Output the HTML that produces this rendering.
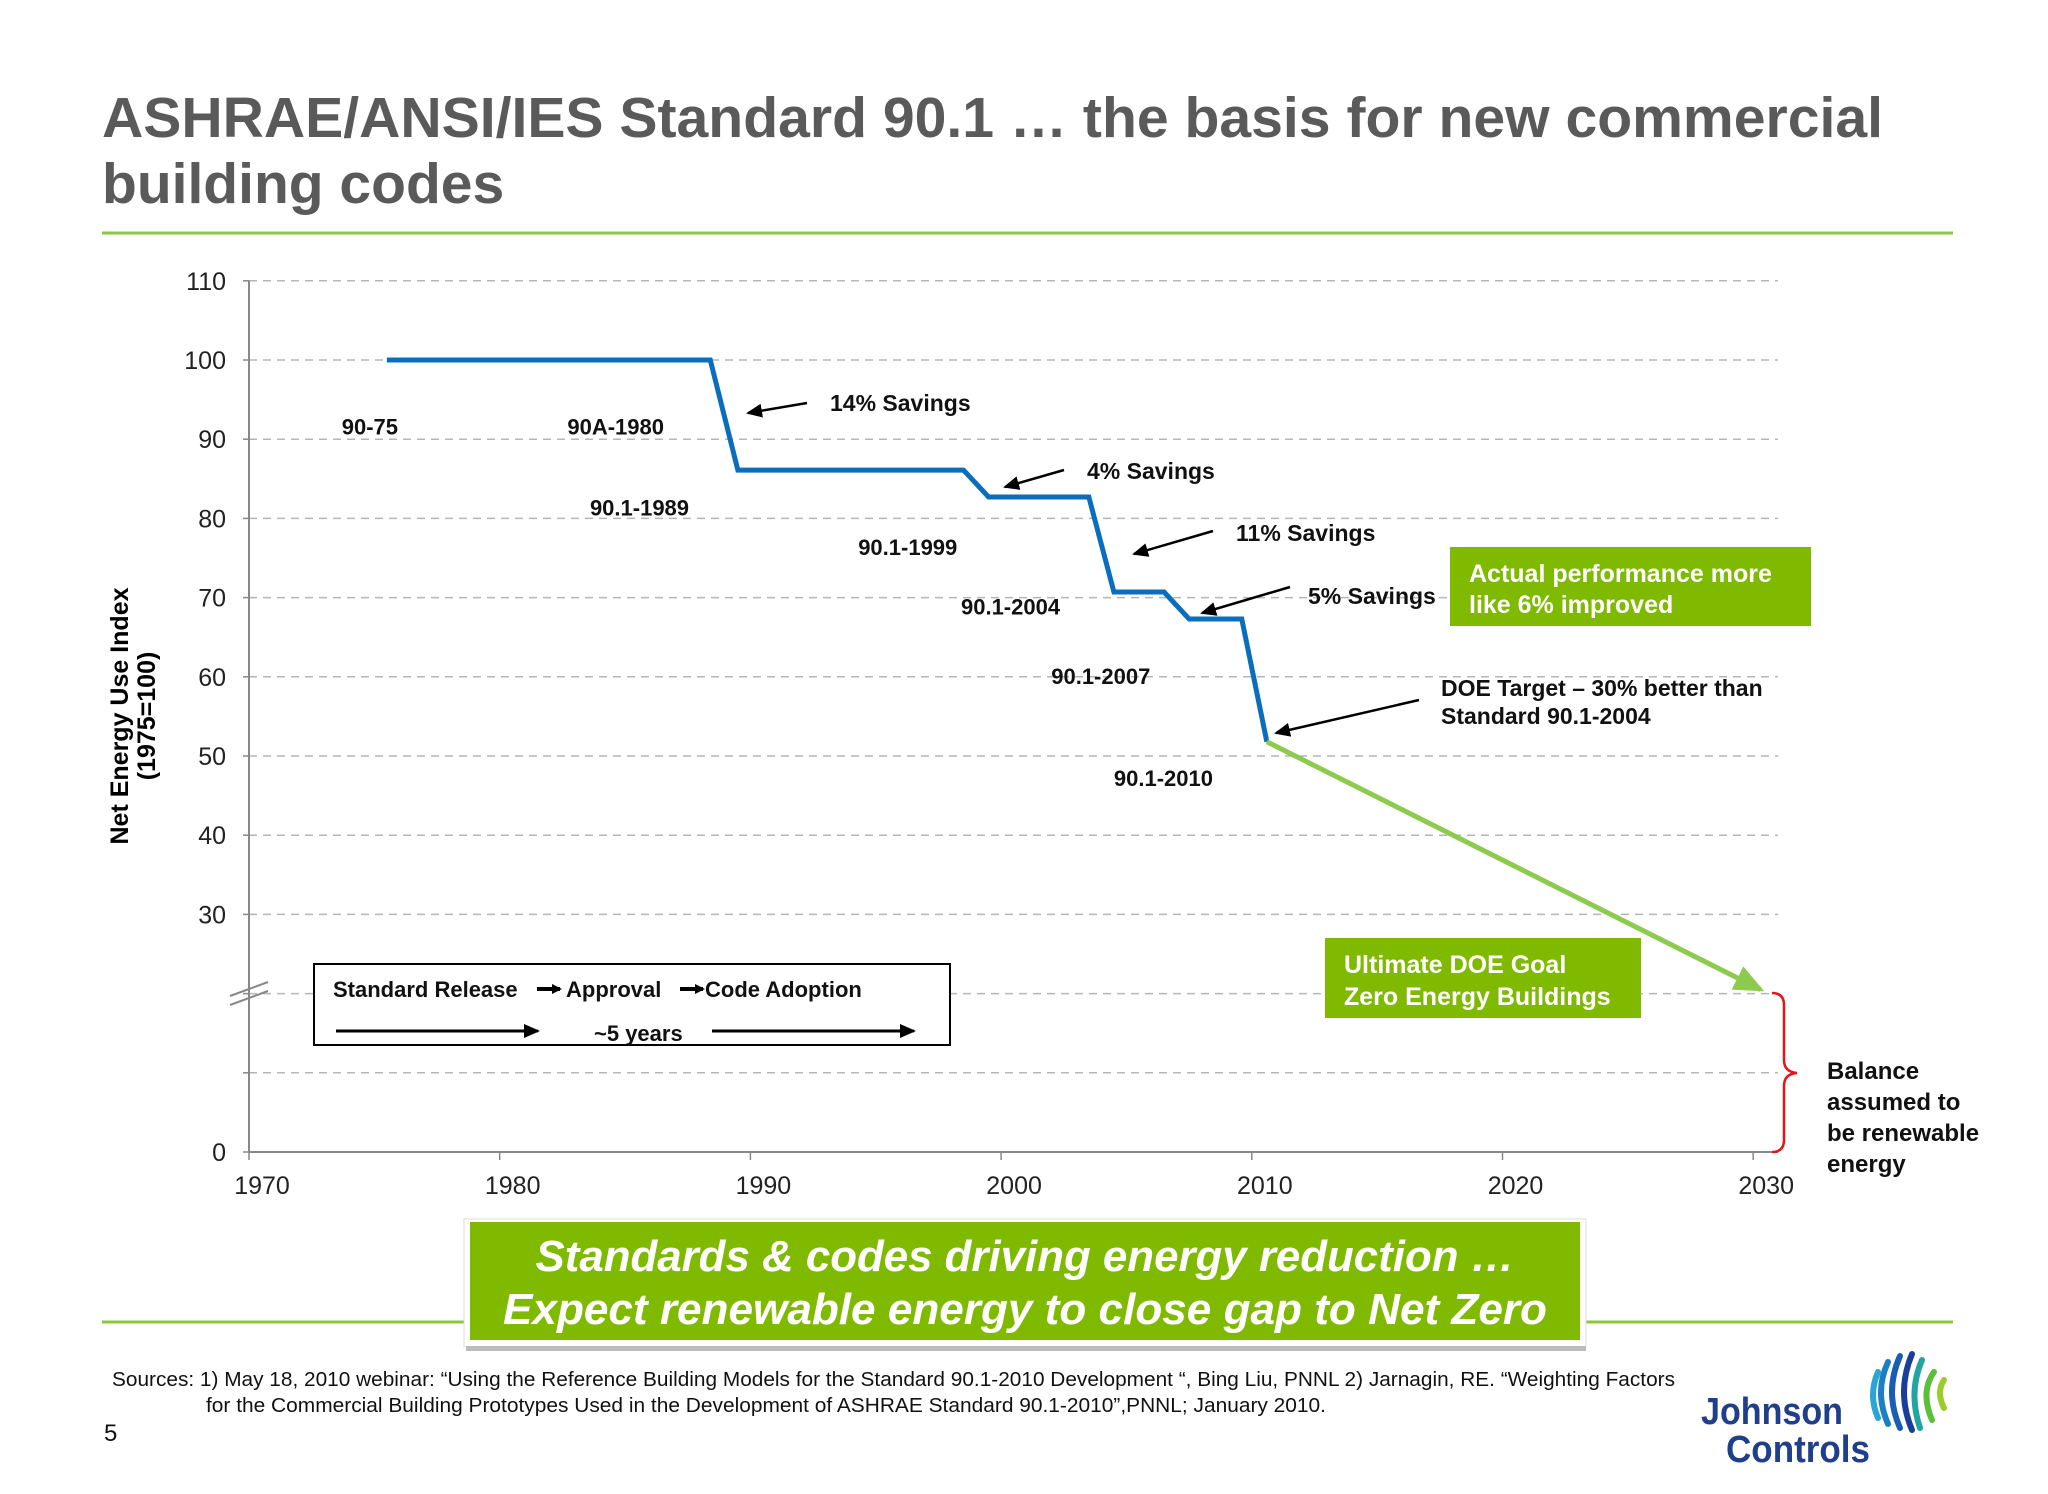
<!DOCTYPE html>
<html><head><meta charset="utf-8"><style>
body{margin:0;background:#fff}
svg text{font-family:"Liberation Sans",Arial,sans-serif}
</style></head><body>
<svg id="chart" width="2048" height="1489" viewBox="0 0 2048 1489" xmlns="http://www.w3.org/2000/svg">
<rect width="2048" height="1489" fill="#fff"/>
<g fill="#5a5a5a" font-weight="bold" font-size="57">
<text x="102" y="137" textLength="1781" lengthAdjust="spacingAndGlyphs">ASHRAE/ANSI/IES Standard 90.1 … the basis for new commercial</text>
<text x="102" y="203">building codes</text>
</g>
<line x1="102" y1="233" x2="1953" y2="233" stroke="#8cc63f" stroke-width="3"/>
<g id="grid"></g>
<g id="axes"></g>
<g stroke="#888" stroke-width="2">
<line x1="230" y1="996" x2="268" y2="982"/><line x1="230" y1="1005" x2="268" y2="991"/>
</g>
<text transform="translate(128,716) rotate(-90)" text-anchor="middle" font-weight="bold" font-size="25"><tspan x="0" y="0">Net Energy Use Index</tspan><tspan x="0" y="27">(1975=100)</tspan></text>
<g id="series"></g>
<g id="labels" font-weight="bold" font-size="22" fill="#111"></g>
<defs><marker id="ah" markerWidth="10" markerHeight="10" refX="8" refY="5" orient="auto" markerUnits="userSpaceOnUse"><path d="M0,0 L10,5 L0,10 z" fill="#000"/></marker>
<marker id="gh" markerWidth="30" markerHeight="26" refX="26" refY="13" orient="auto" markerUnits="userSpaceOnUse"><path d="M0,0 L30,13 L0,26 z" fill="#8dcb4e"/></marker>
<marker id="bh" markerWidth="16" markerHeight="14" refX="14" refY="7" orient="auto" markerUnits="userSpaceOnUse"><path d="M0,0 L16,7 L0,14 z" fill="#000"/></marker></defs>
<g font-weight="bold" font-size="23" fill="#111" stroke-width="2.5">
<line x1="807" y1="403" x2="748" y2="413" stroke="#000" marker-end="url(#bh)"/><text x="830" y="411">14% Savings</text>
<line x1="1064" y1="470" x2="1005" y2="487" stroke="#000" marker-end="url(#bh)"/><text x="1087" y="479">4% Savings</text>
<line x1="1213" y1="531" x2="1134" y2="554" stroke="#000" marker-end="url(#bh)"/><text x="1236" y="541">11% Savings</text>
<line x1="1290" y1="587" x2="1202" y2="613" stroke="#000" marker-end="url(#bh)"/><text x="1308" y="604">5% Savings</text>
<line x1="1419" y1="700" x2="1276" y2="733" stroke="#000" marker-end="url(#bh)"/>
<text x="1441" y="696">DOE Target – 30% better than</text><text x="1441" y="724">Standard 90.1-2004</text>
</g>
<g>
<rect x="1450" y="547" width="361" height="79" fill="#7fba00"/>
<text x="1469" y="582" fill="#fff" font-weight="bold" font-size="25">Actual performance more</text>
<text x="1469" y="613" fill="#fff" font-weight="bold" font-size="25">like 6% improved</text>
</g>
<g>
<rect x="1325" y="938" width="316" height="80" fill="#7fba00"/>
<text x="1344" y="973" fill="#fff" font-weight="bold" font-size="25">Ultimate DOE Goal</text>
<text x="1344" y="1005" fill="#fff" font-weight="bold" font-size="25">Zero Energy Buildings</text>
</g>
<path d="M1772,993 Q1784,993 1784,1005 L1784,1060 Q1784,1072 1797,1073 Q1784,1074 1784,1086 L1784,1140 Q1784,1152 1772,1152" fill="none" stroke="#e8141b" stroke-width="2.5"/>
<g font-weight="bold" font-size="24" fill="#111">
<text x="1827" y="1079">Balance</text><text x="1827" y="1110">assumed to</text><text x="1827" y="1141">be renewable</text><text x="1827" y="1172">energy</text>
</g>
<g font-weight="bold" font-size="22" fill="#111">
<rect x="314" y="964" width="636" height="81" fill="#fff" stroke="#000" stroke-width="2"/>
<text x="333" y="997">Standard Release</text>
<line x1="537" y1="989" x2="560" y2="989" stroke="#000" stroke-width="4" marker-end="url(#ah)"/>
<text x="566" y="997">Approval</text>
<line x1="680" y1="989" x2="703" y2="989" stroke="#000" stroke-width="4" marker-end="url(#ah)"/>
<text x="705" y="997">Code Adoption</text>
<line x1="336" y1="1031" x2="538" y2="1031" stroke="#000" stroke-width="3" marker-end="url(#bh)"/>
<text x="594" y="1041">~5 years</text>
<line x1="712" y1="1031" x2="914" y2="1031" stroke="#000" stroke-width="3" marker-end="url(#bh)"/>
</g>
<g>
<line x1="102" y1="1322" x2="1953" y2="1322" stroke="#8cc63f" stroke-width="3"/>
<rect x="464" y="1219" width="1122" height="128" fill="#fff" stroke="#ddd" stroke-width="1"/>
<rect x="466" y="1346" width="1120" height="5" fill="#bbb"/>
<rect x="470" y="1222" width="1110" height="118" fill="#7fba00"/>
<text x="1025" y="1271" text-anchor="middle" fill="#fff" font-weight="bold" font-style="italic" font-size="44" textLength="979" lengthAdjust="spacingAndGlyphs">Standards &amp; codes driving energy reduction …</text>
<text x="1025" y="1324" text-anchor="middle" fill="#fff" font-weight="bold" font-style="italic" font-size="44" textLength="1044" lengthAdjust="spacingAndGlyphs">Expect renewable energy to close gap to Net Zero</text>
</g>
<g font-size="20" fill="#111">
<text x="112" y="1386" textLength="1563" lengthAdjust="spacingAndGlyphs">Sources: 1) May 18, 2010 webinar: “Using the Reference Building Models for the Standard 90.1-2010 Development “, Bing Liu, PNNL 2) Jarnagin, RE. “Weighting Factors</text>
<text x="206" y="1412" textLength="1120" lengthAdjust="spacingAndGlyphs">for the Commercial Building Prototypes Used in the Development of ASHRAE Standard 90.1-2010”,PNNL; January 2010.</text>
</g>
<text x="104" y="1441" font-size="24" fill="#111">5</text>
<g>
<text x="1701" y="1424" font-weight="bold" font-size="38" fill="#1f3f8a" textLength="142" lengthAdjust="spacingAndGlyphs">Johnson</text>
<text x="1726" y="1462" font-weight="bold" font-size="38" fill="#1f3f8a" textLength="144" lengthAdjust="spacingAndGlyphs">Controls</text>
<g fill="none" stroke-width="6" stroke-linecap="round">
<path d="M1878,1372 Q1868,1395 1878,1418" stroke="#2aa6d6"/>
<path d="M1888,1362 Q1874,1392 1888,1424" stroke="#1c7fc4"/>
<path d="M1900,1356 Q1884,1392 1900,1428" stroke="#1a5db5"/>
<path d="M1912,1354 Q1896,1392 1912,1430" stroke="#1a3f9a"/>
<path d="M1922,1360 Q1908,1392 1920,1428" stroke="#22a4a0"/>
<path d="M1934,1372 Q1920,1392 1932,1420" stroke="#5bbf3c"/>
<path d="M1944,1380 Q1936,1392 1944,1408" stroke="#9ccc2a"/>
</g></g>
<script>
const yTicks=[110,100,90,80,70,60,50,40,30,20,10,0];
const yTickLabels=["110","100","90","80","70","60","50","40","30","","","0"];
const xTicks=[1970,1980,1990,2000,2010,2020,2030];
const standardYears=[1975.5,1988.4,1989.5,1998.5,1999.5,2003.5,2004.5,2006.5,2007.5,2009.6,2010.6];
const standardIndex=[100,100,86.1,86.1,82.7,82.7,70.7,70.7,67.3,67.3,51.8];
const goalYears=[2010.6,2030.3];
const goalIndex=[51.8,20.5];
const standardNames=["90-75","90A-1980","90.1-1989","90.1-1999","90.1-2004","90.1-2007","90.1-2010"];
const nameYears=[1973.7,1982.7,1983.6,1994.3,1998.4,2002.0,2004.5];
const nameValues=[91.6,91.6,81.4,76.4,68.9,60.1,47.2];
const NS="http://www.w3.org/2000/svg";
const X=v=>249+(v-1970)*25.07;
const Y=v=>1152-v*7.92;
function mk(t,a,p){const e=document.createElementNS(NS,t);for(const k in a)e.setAttribute(k,a[k]);p.appendChild(e);return e;}
const grid=document.getElementById('grid'),axes=document.getElementById('axes');
yTicks.forEach((v,i)=>{
 if(v>0){const g=mk('line',{x1:249,x2:1778,y1:Y(v),y2:Y(v),stroke:'#b5b5b5','stroke-width':1.5,'stroke-dasharray':'8,6'},grid);
 
 }
 mk('line',{x1:243,x2:249,y1:Y(v),y2:Y(v),stroke:'#888','stroke-width':1.5},axes);
 if(yTickLabels[i]){const t=mk('text',{x:226,y:Y(v)+9,'text-anchor':'end','font-size':25,fill:'#222'},axes);t.textContent=yTickLabels[i];
 
 }
});
mk('line',{x1:249,x2:249,y1:Y(110),y2:Y(0),stroke:'#888','stroke-width':2},axes);
mk('line',{x1:249,x2:1778,y1:Y(0),y2:Y(0),stroke:'#888','stroke-width':2},axes);
xTicks.forEach(v=>{
 mk('line',{x1:X(v),x2:X(v),y1:Y(0),y2:Y(0)+8,stroke:'#888','stroke-width':1.5},axes);
 const t=mk('text',{x:X(v)+13,y:1194,'text-anchor':'middle','font-size':25,fill:'#222'},axes);t.textContent=v;
 
 
});
const s=document.getElementById('series');
const b=mk('polyline',{points:standardYears.map((v,i)=>X(v)+','+Y(standardIndex[i])).join(' '),fill:'none',stroke:'#0a6ebd','stroke-width':5,'stroke-linejoin':'miter'},s);


const g=mk('polyline',{points:goalYears.map((v,i)=>X(v)+','+Y(goalIndex[i])).join(' '),fill:'none',stroke:'#8dcb4e','stroke-width':5,'marker-end':'url(#gh)'},s);


const L=document.getElementById('labels');
standardNames.forEach((n,i)=>{const t=mk('text',{x:X(nameYears[i]),y:Y(nameValues[i])+8},L);t.textContent=n;
 
 });
</script>
</svg>
</body></html>
